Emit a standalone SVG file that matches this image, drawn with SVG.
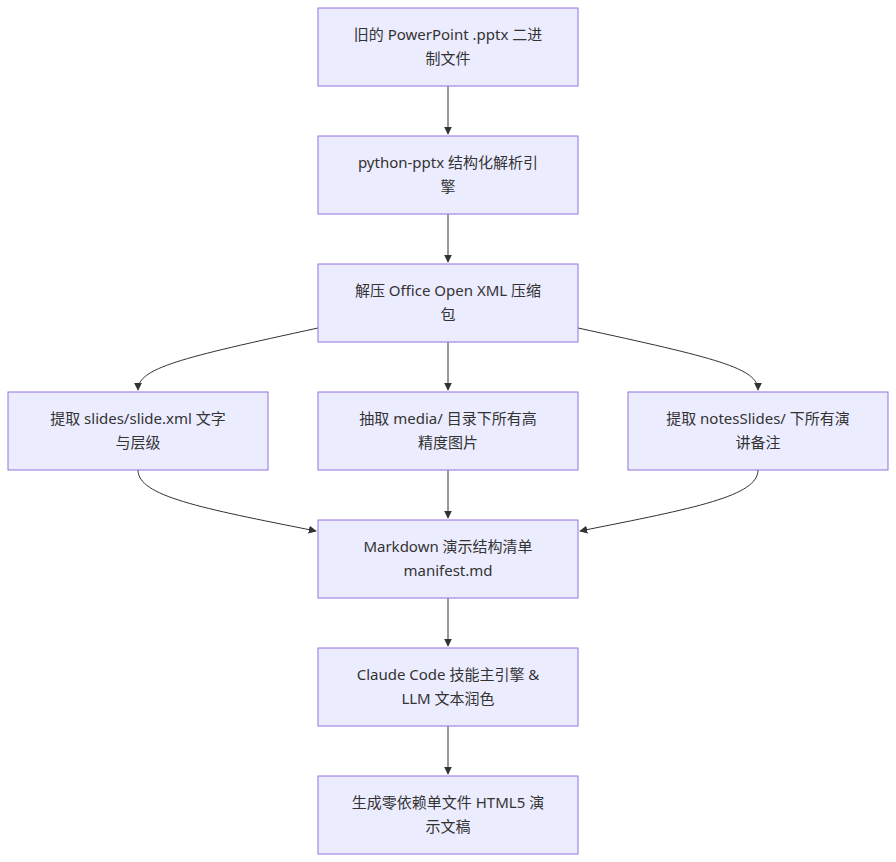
<svg xmlns="http://www.w3.org/2000/svg" width="896" height="862" viewBox="0 0 896 862">
<style>
.n rect{fill:#ECECFF;stroke:#9370DB;stroke-width:1}
.n text{font-family:"Noto Sans","Noto Sans CJK SC",sans-serif;font-size:15px;fill:#333;text-anchor:middle}
.e path{fill:none;stroke:#333;stroke-width:1;marker-end:url(#a)}
</style>
<defs><marker id="a" viewBox="0 0 10 10" refX="9" refY="5" markerWidth="8" markerHeight="8" orient="auto"><path d="M0,0L10,5L0,10z" fill="#333"/></marker></defs>
<rect width="896" height="862" fill="#fff"/>
<g class="e">
<path d="M448,86V134"/>
<path d="M448,214V262"/>
<path d="M448,342V390"/>
<path d="M318,328C180,358 138,368 138,390"/>
<path d="M578,328C716,358 758,368 758,390"/>
<path d="M448,470V518"/>
<path d="M138,470C138,496 200,508 316,531"/>
<path d="M758,470C758,496 696,508 580,531"/>
<path d="M448,598V646"/>
<path d="M448,726V774"/>
</g>
<g id="n1" class="n"><rect x="318" y="8" width="260" height="78"/><text x="448" y="40">旧的 PowerPoint .pptx 二进</text><text x="448" y="64">制文件</text></g>
<g id="n2" class="n"><rect x="318" y="136" width="260" height="78"/><text x="448" y="168">python-pptx 结构化解析引</text><text x="448" y="192">擎</text></g>
<g id="n3" class="n"><rect x="318" y="264" width="260" height="78"/><text x="448" y="296">解压 Office Open XML 压缩</text><text x="448" y="320">包</text></g>
<g id="n4" class="n"><rect x="8" y="392" width="260" height="78"/><text x="138" y="424">提取 slides/slide.xml 文字</text><text x="138" y="448">与层级</text></g>
<g id="n5" class="n"><rect x="318" y="392" width="260" height="78"/><text x="448" y="424">抽取 media/ 目录下所有高</text><text x="448" y="448">精度图片</text></g>
<g id="n6" class="n"><rect x="628" y="392" width="260" height="78"/><text x="758" y="424">提取 notesSlides/ 下所有演</text><text x="758" y="448">讲备注</text></g>
<g id="n7" class="n"><rect x="318" y="520" width="260" height="78"/><text x="448" y="552">Markdown 演示结构清单</text><text x="448" y="576">manifest.md</text></g>
<g id="n8" class="n"><rect x="318" y="648" width="260" height="78"/><text x="448" y="680">Claude Code 技能主引擎 &amp;</text><text x="448" y="704">LLM 文本润色</text></g>
<g id="n9" class="n"><rect x="318" y="776" width="260" height="78"/><text x="448" y="808">生成零依赖单文件 HTML5 演</text><text x="448" y="832">示文稿</text></g>
</svg>
